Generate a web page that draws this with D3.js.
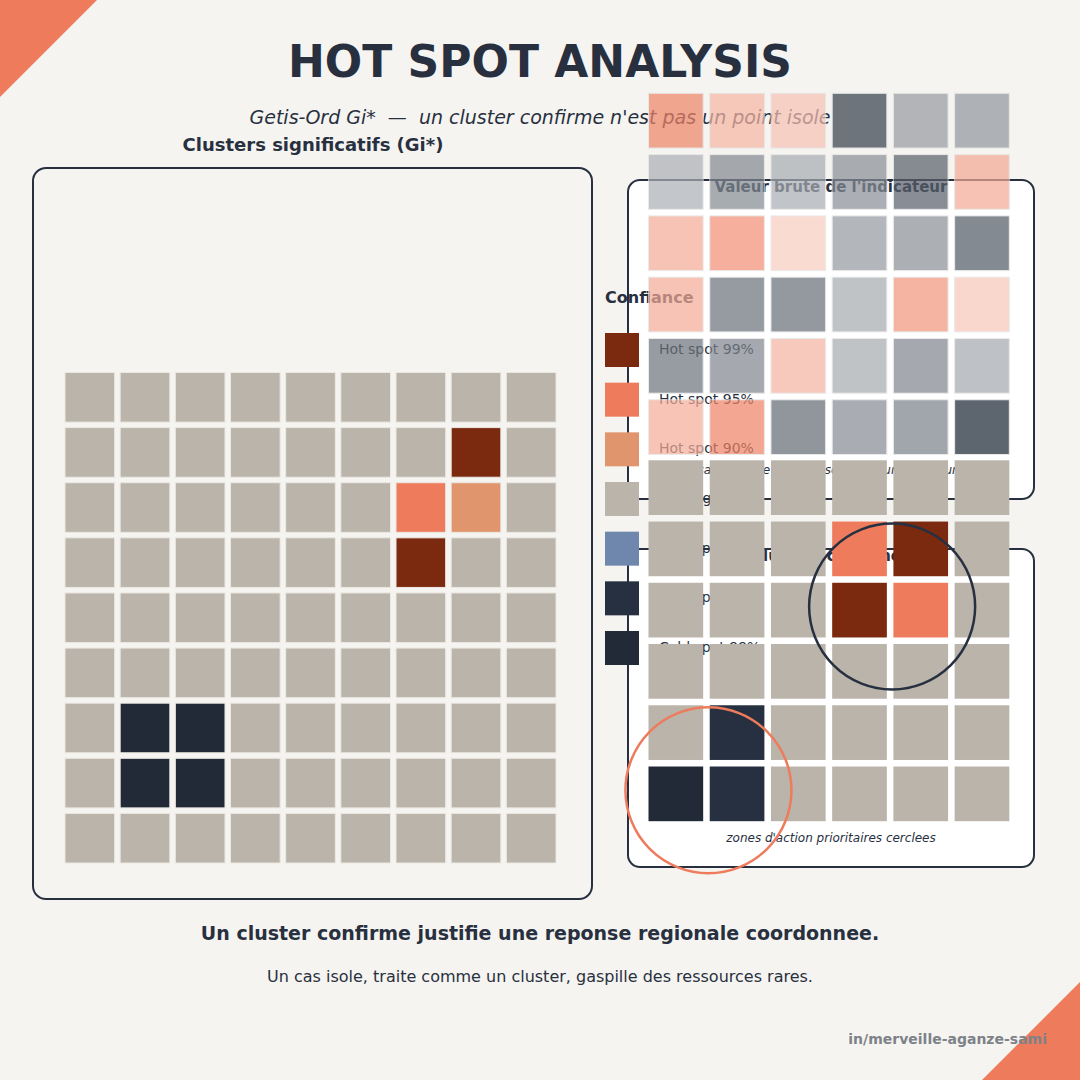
<!DOCTYPE html>
<html><head><meta charset="utf-8">
<script src="https://cdn.jsdelivr.net/npm/d3@7"></script>
<style>html,body{margin:0;padding:0;background:#f5f4f0;} svg{display:block;font-family:"DejaVu Sans",sans-serif;}</style>
</head><body>
<script>
// ---- DATA ----
const classCodes = [3, 2, 1, 0, -1, -2, -3];
const classLabels = ["Hot spot 99%", "Hot spot 95%", "Hot spot 90%", "Non significatif", "Cold spot 90%", "Cold spot 95%", "Cold spot 99%"];
const classColors = ["#7b2a10", "#ee7b5c", "#e0956c", "#bab4aa", "#6f87ad", "#263040", "#212a36"];

// Left map: Gi* classes, 9 x 9
const giLeft = [
  [0,0,0,0,0,0,0,0,0],
  [0,0,0,0,0,0,0,3,0],
  [0,0,0,0,0,0,2,1,0],
  [0,0,0,0,0,0,3,0,0],
  [0,0,0,0,0,0,0,0,0],
  [0,0,0,0,0,0,0,0,0],
  [0,-3,-3,0,0,0,0,0,0],
  [0,-3,-3,0,0,0,0,0,0],
  [0,0,0,0,0,0,0,0,0]
];
// Raw indicator values (standardised), 6 x 6
const rawValues = [
  [ 0.87,  0.52,  0.44, -0.88, -0.46, -0.48],
  [-0.37, -0.54, -0.38, -0.52, -0.73,  0.62],
  [ 0.60,  0.80,  0.36, -0.47, -0.51, -0.76],
  [ 0.60, -0.65, -0.66, -0.39,  0.75,  0.40],
  [-0.64, -0.56,  0.54, -0.39, -0.56, -0.40],
  [ 0.59,  0.88, -0.68, -0.53, -0.58, -1.00]
];
// Confirmed clusters, 6 x 6
const giRight = [
  [0,0,0,0,0,0],
  [0,0,0,2,3,0],
  [0,0,0,3,2,0],
  [0,0,0,0,0,0],
  [0,-2,0,0,0,0],
  [-3,-2,0,0,0,0]
];
const clusterRows = [[1,2],[4,5]];
const clusterCols = [[3,4],[0,1]];
const clusterStroke = ["#263040", "#ee7b5c"];

const W = 1080, H = 1080;
const DARK = "#283040", CORAL = "#ee7b5c", BG = "#f5f4f0";

const svg = d3.select("body").append("svg").attr("width", W).attr("height", H);
svg.append("rect").attr("width", W).attr("height", H).attr("fill", BG);

// corner triangles
svg.append("path").attr("d", "M0,0 L97,0 L0,97 Z").attr("fill", CORAL);
svg.append("path").attr("d", "M1080,982 L1080,1080 L982,1080 Z").attr("fill", CORAL);

// titles
svg.append("text").attr("x", 540).attr("y", 77).attr("text-anchor", "middle")
  .attr("font-size", 44).attr("font-weight", "bold").attr("fill", DARK).text("HOT SPOT ANALYSIS");
svg.append("text").attr("x", 540).attr("y", 124).attr("text-anchor", "middle")
  .attr("font-size", 19).attr("font-style", "italic").attr("fill", DARK)
  .style("white-space", "pre").text("Getis-Ord Gi*  \u2014  un cluster confirme n'est pas un point isole");

const colorOf = code => classColors[classCodes.indexOf(code)];

// ---- Left panel ----
svg.append("rect").attr("x", 33).attr("y", 168).attr("width", 559).attr("height", 731).attr("rx", 13)
  .attr("fill", BG).attr("stroke", DARK).attr("stroke-width", 2);
svg.append("text").attr("x", 313).attr("y", 151).attr("text-anchor", "middle")
  .attr("font-size", 18).attr("font-weight", "bold").attr("fill", DARK).text("Clusters significatifs (Gi*)");

const xL = d3.scaleBand().domain(d3.range(9)).range([65, 556]).paddingInner(0.1);
const yL = d3.scaleBand().domain(d3.range(9)).range([372.5, 863]).paddingInner(0.1);
const leftCells = giLeft.flatMap((row, r) => row.map((v, c) => ({r, c, v})));
svg.append("g").selectAll("rect").data(leftCells).join("rect")
  .attr("x", d => xL(d.c)).attr("y", d => yL(d.r))
  .attr("width", xL.bandwidth()).attr("height", yL.bandwidth())
  .attr("fill", d => colorOf(d.v)).attr("stroke", "#ebe8e2").attr("stroke-width", 1);

// ---- Right panels ----
function panel(y, h, title, caption) {
  svg.append("rect").attr("x", 628).attr("y", y).attr("width", 406).attr("height", h).attr("rx", 12)
    .attr("fill", "#ffffff").attr("stroke", DARK).attr("stroke-width", 2);
  svg.append("text").attr("x", 831).attr("y", y + 12).attr("text-anchor", "middle")
    .attr("font-size", 15).attr("font-weight", "bold").attr("fill", DARK).text(title);
  svg.append("text").attr("x", 831).attr("y", y + h - 25).attr("text-anchor", "middle")
    .attr("font-size", 12).attr("font-style", "italic").attr("fill", DARK).text(caption);
}
panel(180, 319, "Valeur brute de l'indicateur", "sans test, le bruit ressemble a une structure");
panel(549, 318, "Clusters confirmes", "zones d'action prioritaires cerclees");

// ---- Legend ----
const legend = svg.append("g");
legend.append("text").attr("x", 605).attr("y", 303).attr("font-size", 16).attr("font-weight", "bold")
  .attr("fill", DARK).text("Confiance");
const yLeg = d3.scalePoint().domain(classLabels).range([333, 631]);
legend.selectAll("rect").data(classLabels).join("rect")
  .attr("x", 605).attr("y", d => yLeg(d)).attr("width", 34).attr("height", 34)
  .attr("fill", (d, i) => classColors[i]);
legend.selectAll("text.lab").data(classLabels).join("text").attr("class", "lab")
  .attr("x", 659).attr("y", d => yLeg(d) + 21).attr("font-size", 14).attr("fill", DARK).text(d => d);

// ---- Raw grid ----
const xR = d3.scaleBand().domain(d3.range(6)).range([648.5, 1009.3]).paddingInner(0.107);
const yRaw = d3.scaleBand().domain(d3.range(6)).range([93.3, 454.5]).paddingInner(0.107);
const yGi = d3.scaleBand().domain(d3.range(6)).range([460.3, 821.2]).paddingInner(0.107);
const rawColor = d3.scaleLinear().domain([-1, 0, 1]).range(["#1a2433", "#ffffff", "#ed7250"]);
const rawCells = rawValues.flatMap((row, r) => row.map((v, c) => ({r, c, v})));
svg.append("g").selectAll("rect").data(rawCells).join("rect")
  .attr("x", d => xR(d.c)).attr("y", d => yRaw(d.r))
  .attr("width", xR.bandwidth()).attr("height", yRaw.bandwidth())
  .attr("fill", d => rawColor(d.v)).attr("stroke", "#e2e2e2").attr("stroke-width", 1)
  .attr("opacity", 0.7);

// ---- Confirmed clusters grid ----
const giCells = giRight.flatMap((row, r) => row.map((v, c) => ({r, c, v})));
svg.append("g").selectAll("rect").data(giCells).join("rect")
  .attr("x", d => xR(d.c)).attr("y", d => yGi(d.r))
  .attr("width", xR.bandwidth()).attr("height", yGi.bandwidth())
  .attr("fill", d => colorOf(d.v));

// circles round clusters
const circ = clusterRows.map((rows, i) => {
  const cols = clusterCols[i];
  const cx = (xR(cols[0]) + xR(cols[1]) + xR.bandwidth()) / 2 + 2;
  const cy = (yGi(rows[0]) + yGi(rows[1]) + yGi.bandwidth()) / 2 + 27;
  return {cx, cy, color: clusterStroke[i]};
});
svg.append("g").selectAll("circle").data(circ).join("circle")
  .attr("cx", d => d.cx).attr("cy", d => d.cy).attr("r", 83)
  .attr("fill", "none").attr("stroke", d => d.color).attr("stroke-width", 2.5);

// ---- Footer ----
svg.append("text").attr("x", 540).attr("y", 940).attr("text-anchor", "middle")
  .attr("font-size", 19).attr("font-weight", "bold").attr("fill", DARK)
  .text("Un cluster confirme justifie une reponse regionale coordonnee.");
svg.append("text").attr("x", 540).attr("y", 982).attr("text-anchor", "middle")
  .attr("font-size", 16).attr("fill", DARK)
  .text("Un cas isole, traite comme un cluster, gaspille des ressources rares.");
svg.append("text").attr("x", 1047).attr("y", 1044).attr("text-anchor", "end")
  .attr("font-size", 14).attr("font-weight", "bold").attr("fill", "#7d8289")
  .text("in/merveille-aganze-sami");
</script>
</body></html>
